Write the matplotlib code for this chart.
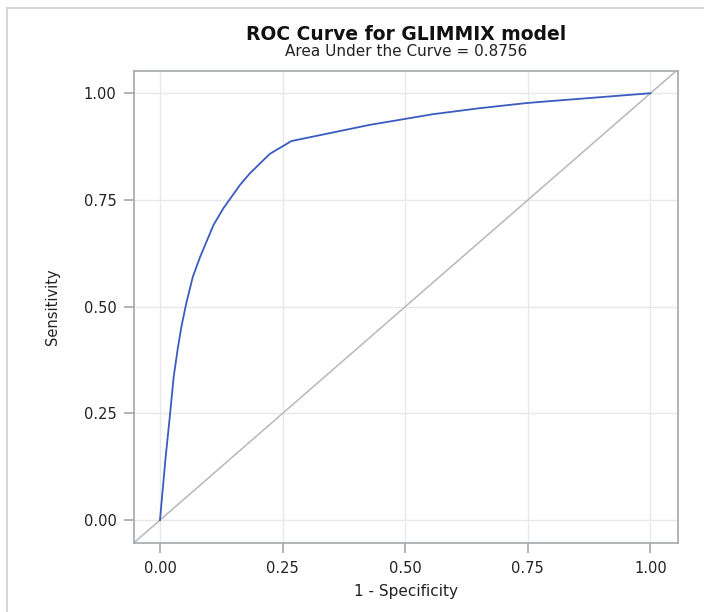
import numpy as np
import matplotlib
matplotlib.use("Agg")
import matplotlib.pyplot as plt
from matplotlib.lines import Line2D

plt.rcParams["font.family"] = ["DejaVu Sans"]

# ─── Data ─────────────────────────────────────────────────────────────────────
fpr = [0.0, 0.011, 0.020, 0.028, 0.036, 0.044, 0.054, 0.067, 0.082, 0.109,
       0.129, 0.163, 0.183, 0.224, 0.268, 0.428, 0.557, 0.652, 0.747, 0.800, 1.0]
tpr = [0.0, 0.141, 0.242, 0.336, 0.400, 0.455, 0.510, 0.570, 0.617, 0.691,
       0.730, 0.785, 0.812, 0.858, 0.888, 0.926, 0.951, 0.965, 0.977, 0.982, 1.0]
ticks = [0.0, 0.25, 0.50, 0.75, 1.0]
auc = 0.8756

BLUE  = "#3a5cbf"
SPINE = "#a4a8ac"
GRID  = "#e8e8e8"
TXT   = "#222222"

fig = plt.figure(figsize=(7.04, 6.12), dpi=100)
ax = fig.add_axes([0.191, 0.1132, 0.772, 0.770])

ax.set_xlim(-0.052, 1.056)
ax.set_ylim(-0.053, 1.051)
ax.set_xticks(ticks)
ax.set_yticks(ticks)
ax.set_xticklabels([f"{t:.2f}" for t in ticks])
ax.set_yticklabels([f"{t:.2f}" for t in ticks])
ax.grid(True, color=GRID, lw=1)
ax.set_axisbelow(True)

# chance diagonal and ROC curve
ax.axline((0, 0), (1, 1), color="#b8b8b8", lw=1.1)
ax.plot(fpr, tpr, color=BLUE, lw=1.3)

for s in ax.spines.values():
    s.set_color(SPINE)
    s.set_linewidth(1.2)
ax.tick_params(colors=SPINE, labelcolor=TXT, length=7, width=1.2,
               labelsize=10.5, pad=6)

ax.set_xlabel("1 - Specificity", fontsize=11, color=TXT, labelpad=6)
ax.set_ylabel("Sensitivity", fontsize=10.5, color=TXT, labelpad=17)

fig.text(0.577, 1 - 34 / 612, "ROC Curve for GLIMMIX model", ha="center",
         va="center", fontsize=13.5, fontweight="bold", color="#111111")
fig.text(0.577, 1 - 52 / 612, f"Area Under the Curve = {auc:.4f}", ha="center",
         va="center", fontsize=11, color=TXT)

# outer frame edges visible in the screenshot
fig.add_artist(Line2D([7 / 704, 1], [1 - 8 / 612] * 2, color="#d0d0d0", lw=1.2))
fig.add_artist(Line2D([7 / 704] * 2, [0, 1 - 8 / 612], color="#d0d0d0", lw=1.2))

fig.savefig("out.png", dpi=100)
